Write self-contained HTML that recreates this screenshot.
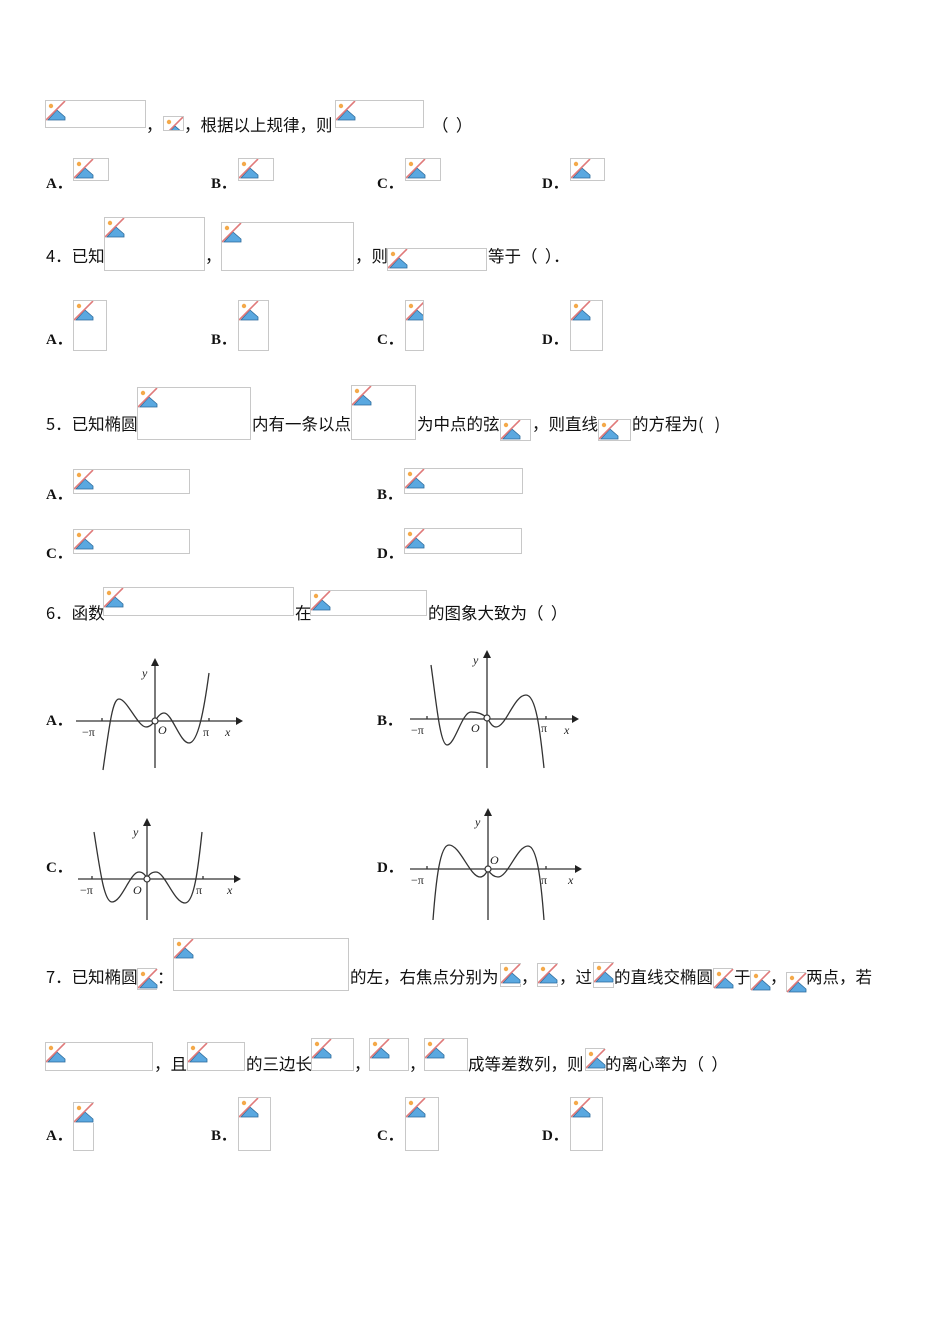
<!DOCTYPE html>
<html><head><meta charset="utf-8"><style>
body{margin:0;background:#fff;}
#p{position:relative;width:950px;height:1344px;overflow:hidden;font-family:"Noto Sans CJK SC","Liberation Sans",sans-serif;font-size:16.5px;color:#111;}
.t{position:absolute;white-space:nowrap;line-height:18px;}
.l{position:absolute;font-weight:bold;font-size:15px;line-height:18px;font-family:"Liberation Serif",serif;}
.b{position:absolute;border:1px solid #c8c8c8;box-sizing:border-box;background:#fff;}
.b svg{position:absolute;left:0;top:0;width:20px;height:20px;}
</style></head><body><div id="p">
<svg width="0" height="0" style="position:absolute"><defs><symbol id="ic" viewBox="0 0 20 20">
<rect x="0" y="0" width="20" height="20" fill="#fff"/>
<circle cx="5" cy="5" r="2.2" fill="#f4a94a"/>
<path d="M2 19 L11 9 L19 16 L19 19 Z" fill="#5aa8e0" stroke="#2c6a9a" stroke-width="0.8"/>
<line x1="0" y1="19" x2="19" y2="0" stroke="#e07a7a" stroke-width="1.6"/>
</symbol></defs></svg>

<!-- line 1 -->
<div class="b" style="left:45px;top:100px;width:101px;height:28px"><svg><use href="#ic"/></svg></div>
<div class="t" style="left:146px;top:115px">，</div>
<div class="b" style="left:163px;top:116px;width:21px;height:15px;overflow:hidden"><svg><use href="#ic"/></svg></div>
<div class="t" style="left:184px;top:115px">，根据以上规律，则</div>
<div class="b" style="left:335px;top:100px;width:89px;height:28px"><svg><use href="#ic"/></svg></div>
<div class="t" style="left:432px;top:115px">（&nbsp;&nbsp;）</div>

<div class="l" style="left:46px;top:175px">A．</div><div class="b" style="left:73px;top:158px;width:36px;height:23px"><svg><use href="#ic"/></svg></div>
<div class="l" style="left:211px;top:175px">B．</div><div class="b" style="left:238px;top:158px;width:36px;height:23px"><svg><use href="#ic"/></svg></div>
<div class="l" style="left:377px;top:175px">C．</div><div class="b" style="left:405px;top:158px;width:36px;height:23px"><svg><use href="#ic"/></svg></div>
<div class="l" style="left:542px;top:175px">D．</div><div class="b" style="left:570px;top:158px;width:35px;height:23px"><svg><use href="#ic"/></svg></div>

<!-- Q4 -->
<div class="t" style="left:46px;top:246px">4．已知</div>
<div class="b" style="left:104px;top:217px;width:101px;height:54px"><svg><use href="#ic"/></svg></div>
<div class="t" style="left:205px;top:246px">，</div>
<div class="b" style="left:221px;top:222px;width:133px;height:49px"><svg><use href="#ic"/></svg></div>
<div class="t" style="left:355px;top:246px">，则</div>
<div class="b" style="left:387px;top:248px;width:100px;height:23px"><svg><use href="#ic"/></svg></div>
<div class="t" style="left:488px;top:246px">等于（&nbsp;&nbsp;）．</div>

<div class="l" style="left:46px;top:331px">A．</div><div class="b" style="left:73px;top:300px;width:34px;height:51px"><svg><use href="#ic"/></svg></div>
<div class="l" style="left:211px;top:331px">B．</div><div class="b" style="left:238px;top:300px;width:31px;height:51px"><svg><use href="#ic"/></svg></div>
<div class="l" style="left:377px;top:331px">C．</div><div class="b" style="left:405px;top:300px;width:19px;height:51px;overflow:hidden"><svg><use href="#ic"/></svg></div>
<div class="l" style="left:542px;top:331px">D．</div><div class="b" style="left:570px;top:300px;width:33px;height:51px"><svg><use href="#ic"/></svg></div>

<!-- Q5 -->
<div class="t" style="left:46px;top:414px">5．已知椭圆</div>
<div class="b" style="left:137px;top:387px;width:114px;height:53px"><svg><use href="#ic"/></svg></div>
<div class="t" style="left:252px;top:414px">内有一条以点</div>
<div class="b" style="left:351px;top:385px;width:65px;height:55px"><svg><use href="#ic"/></svg></div>
<div class="t" style="left:417px;top:414px">为中点的弦</div>
<div class="b" style="left:500px;top:419px;width:31px;height:22px"><svg><use href="#ic"/></svg></div>
<div class="t" style="left:532px;top:414px">，则直线</div>
<div class="b" style="left:598px;top:419px;width:33px;height:22px"><svg><use href="#ic"/></svg></div>
<div class="t" style="left:632px;top:414px">的方程为(&nbsp;&nbsp;&nbsp;)</div>

<div class="l" style="left:46px;top:486px">A．</div><div class="b" style="left:73px;top:469px;width:117px;height:25px"><svg><use href="#ic"/></svg></div>
<div class="l" style="left:377px;top:486px">B．</div><div class="b" style="left:404px;top:468px;width:119px;height:26px"><svg><use href="#ic"/></svg></div>
<div class="l" style="left:46px;top:545px">C．</div><div class="b" style="left:73px;top:529px;width:117px;height:25px"><svg><use href="#ic"/></svg></div>
<div class="l" style="left:377px;top:545px">D．</div><div class="b" style="left:404px;top:528px;width:118px;height:26px"><svg><use href="#ic"/></svg></div>

<!-- Q6 -->
<div class="t" style="left:46px;top:603px">6．函数</div>
<div class="b" style="left:103px;top:587px;width:191px;height:29px"><svg><use href="#ic"/></svg></div>
<div class="t" style="left:295px;top:603px">在</div>
<div class="b" style="left:310px;top:590px;width:117px;height:26px"><svg><use href="#ic"/></svg></div>
<div class="t" style="left:428px;top:603px">的图象大致为（&nbsp;&nbsp;）</div>

<div class="l" style="left:46px;top:712px">A．</div>
<div class="l" style="left:377px;top:712px">B．</div>
<div class="l" style="left:46px;top:859px">C．</div>
<div class="l" style="left:377px;top:859px">D．</div>

<svg style="position:absolute;left:0;top:0" width="950" height="1344" font-family="Liberation Serif,serif" font-style="italic" font-size="12" fill="#222">
<g stroke="#333" stroke-width="1.3" fill="none">
<line x1="76" y1="721" x2="236" y2="721"/><line x1="155" y1="768" x2="155" y2="666"/>
<path d="M103,770 C110,720 113,699 119,699 C127,699 138,727 146,727 C150,727 152,724 155,721 C158,716 161,713 164,713 C172,713 180,743 189,743 C198,743 204,710 209,673"/>
<line x1="102" y1="718" x2="102" y2="721"/><line x1="209" y1="718" x2="209" y2="721"/>
<line x1="410" y1="719" x2="572" y2="719"/><line x1="487" y1="768" x2="487" y2="658"/>
<path d="M431,665 C436,700 440,745 447,745 C455,745 462,712 471,712 C479,712 484,715 487,718 C490,722 492,727 496,727 C506,727 514,695 526,695 C536,695 540,730 544,768"/>
<line x1="427" y1="716" x2="427" y2="719"/><line x1="546" y1="716" x2="546" y2="719"/>
<line x1="78" y1="879" x2="234" y2="879"/><line x1="147" y1="920" x2="147" y2="826"/>
<path d="M94,832 C100,870 104,902 112,902 C122,902 130,872 139,872 C143,872 145,875 147,878 C149,875 151,872 156,872 C165,872 174,903 185,903 C194,903 198,870 202,832"/>
<line x1="92" y1="876" x2="92" y2="879"/><line x1="203" y1="876" x2="203" y2="879"/>
<line x1="410" y1="869" x2="575" y2="869"/><line x1="488" y1="920" x2="488" y2="816"/>
<path d="M433,920 C436,880 440,845 449,845 C460,845 470,877 480,877 C484,877 486,873 488,870 C490,873 493,877 498,877 C508,877 517,846 528,846 C537,846 541,880 544,920"/>
<line x1="427" y1="866" x2="427" y2="869"/><line x1="546" y1="866" x2="546" y2="869"/>
</g>
<g fill="#222" stroke="none">
<path d="M236,717 L243,721 L236,725 Z"/><path d="M151,666 L155,658 L159,666 Z"/>
<path d="M572,715 L579,719 L572,723 Z"/><path d="M483,658 L487,650 L491,658 Z"/>
<path d="M234,875 L241,879 L234,883 Z"/><path d="M143,826 L147,818 L151,826 Z"/>
<path d="M575,865 L582,869 L575,873 Z"/><path d="M484,816 L488,808 L492,816 Z"/>
</g>
<g fill="#fff" stroke="#333" stroke-width="1.2">
<circle cx="155" cy="721" r="3"/><circle cx="487" cy="718" r="3"/><circle cx="147" cy="879" r="3"/><circle cx="488" cy="869" r="3"/>
</g>
<text x="82" y="736" font-style="normal">−π</text><text x="158" y="734">O</text><text x="203" y="736" font-style="normal">π</text><text x="225" y="736">x</text><text x="142" y="677">y</text>
<text x="411" y="734" font-style="normal">−π</text><text x="471" y="732">O</text><text x="541" y="732" font-style="normal">π</text><text x="564" y="734">x</text><text x="473" y="664">y</text>
<text x="80" y="894" font-style="normal">−π</text><text x="133" y="894">O</text><text x="196" y="894" font-style="normal">π</text><text x="227" y="894">x</text><text x="133" y="836">y</text>
<text x="411" y="884" font-style="normal">−π</text><text x="490" y="864">O</text><text x="541" y="884" font-style="normal">π</text><text x="568" y="884">x</text><text x="475" y="826">y</text>
</svg>

<!-- Q7 -->
<div class="t" style="left:46px;top:967px">7．已知椭圆</div>
<div class="b" style="left:137px;top:968px;width:20px;height:22px"><svg><use href="#ic"/></svg></div>
<div class="t" style="left:157px;top:967px">：</div>
<div class="b" style="left:173px;top:938px;width:176px;height:53px"><svg><use href="#ic"/></svg></div>
<div class="t" style="left:350px;top:967px">的左，右焦点分别为</div>
<div class="b" style="left:500px;top:963px;width:21px;height:24px"><svg><use href="#ic"/></svg></div>
<div class="t" style="left:521px;top:967px">，</div>
<div class="b" style="left:537px;top:963px;width:21px;height:24px"><svg><use href="#ic"/></svg></div>
<div class="t" style="left:559px;top:967px">，过</div>
<div class="b" style="left:593px;top:962px;width:21px;height:26px"><svg><use href="#ic"/></svg></div>
<div class="t" style="left:614px;top:967px">的直线交椭圆</div>
<div class="b" style="left:713px;top:968px;width:20px;height:20px"><svg><use href="#ic"/></svg></div>
<div class="t" style="left:734px;top:967px">于</div>
<div class="b" style="left:750px;top:970px;width:20px;height:20px"><svg><use href="#ic"/></svg></div>
<div class="t" style="left:770px;top:967px">，</div>
<div class="b" style="left:786px;top:972px;width:20px;height:20px"><svg><use href="#ic"/></svg></div>
<div class="t" style="left:806px;top:967px">两点，若</div>

<div class="b" style="left:45px;top:1042px;width:108px;height:29px"><svg><use href="#ic"/></svg></div>
<div class="t" style="left:154px;top:1054px">，且</div>
<div class="b" style="left:187px;top:1042px;width:58px;height:29px"><svg><use href="#ic"/></svg></div>
<div class="t" style="left:246px;top:1054px">的三边长</div>
<div class="b" style="left:311px;top:1038px;width:43px;height:33px"><svg><use href="#ic"/></svg></div>
<div class="t" style="left:354px;top:1054px">，</div>
<div class="b" style="left:369px;top:1038px;width:40px;height:33px"><svg><use href="#ic"/></svg></div>
<div class="t" style="left:409px;top:1054px">，</div>
<div class="b" style="left:424px;top:1038px;width:44px;height:33px"><svg><use href="#ic"/></svg></div>
<div class="t" style="left:468px;top:1054px">成等差数列，则</div>
<div class="b" style="left:585px;top:1048px;width:20px;height:23px"><svg><use href="#ic"/></svg></div>
<div class="t" style="left:605px;top:1054px">的离心率为（&nbsp;&nbsp;）</div>

<div class="l" style="left:46px;top:1127px">A．</div><div class="b" style="left:73px;top:1102px;width:21px;height:49px"><svg><use href="#ic"/></svg></div>
<div class="l" style="left:211px;top:1127px">B．</div><div class="b" style="left:238px;top:1097px;width:33px;height:54px"><svg><use href="#ic"/></svg></div>
<div class="l" style="left:377px;top:1127px">C．</div><div class="b" style="left:405px;top:1097px;width:34px;height:54px"><svg><use href="#ic"/></svg></div>
<div class="l" style="left:542px;top:1127px">D．</div><div class="b" style="left:570px;top:1097px;width:33px;height:54px"><svg><use href="#ic"/></svg></div>
</div></body></html>
